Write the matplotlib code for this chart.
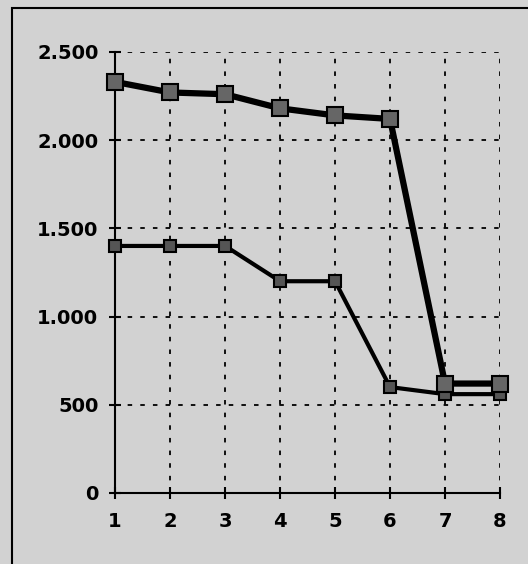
import matplotlib.pyplot as plt
from matplotlib.patches import Rectangle

# Values
x_vals = [1, 2, 3, 4, 5, 6, 7, 8]
upper = [2330, 2270, 2260, 2180, 2140, 2120, 620, 620]
lower = [1400, 1400, 1400, 1200, 1200, 600, 560, 560]
y_ticks = [0, 500, 1000, 1500, 2000, 2500]
y_labels = ['0', '500', '1.000', '1.500', '2.000', '2.500']

bg = '#d2d2d2'
fig = plt.figure(figsize=(5.28, 5.64), dpi=100, facecolor=bg)
ax = fig.add_axes([0.218, 0.126, 0.729, 0.782])
ax.set_facecolor(bg)

# Frame around the figure (scan edge)
fig.patches.append(Rectangle((0.023, -0.02), 1.1, 1.005, transform=fig.transFigure,
                             fill=False, edgecolor='black', linewidth=1.5))

ax.plot(x_vals, lower, color='black', linewidth=3, marker='s', markersize=9,
        markerfacecolor='#555555', markeredgecolor='black', markeredgewidth=1.5,
        clip_on=False, zorder=3)
ax.plot(x_vals, upper, color='black', linewidth=4.5, marker='s', markersize=12,
        markerfacecolor='#666666', markeredgecolor='black', markeredgewidth=1.5,
        clip_on=False, zorder=4)

ax.set_xlim(1, 8)
ax.set_ylim(0, 2500)
ax.set_xticks(x_vals)
ax.set_yticks(y_ticks)
ax.set_yticklabels(y_labels)

for side in ['top', 'right']:
    ax.spines[side].set_visible(False)
for side in ['left', 'bottom']:
    ax.spines[side].set_linewidth(1.5)

ax.grid(True, color='black', linestyle=(0, (2.5, 4.5)), linewidth=1.3)
ax.tick_params(direction='inout', length=8, width=1.5, labelsize=14)
ax.tick_params(axis='x', pad=10)
ax.tick_params(axis='y', pad=8)
for lbl in ax.get_xticklabels() + ax.get_yticklabels():
    lbl.set_fontweight('bold')
    lbl.set_fontfamily('DejaVu Sans')

fig.savefig('out.png', dpi=100, facecolor=bg)
